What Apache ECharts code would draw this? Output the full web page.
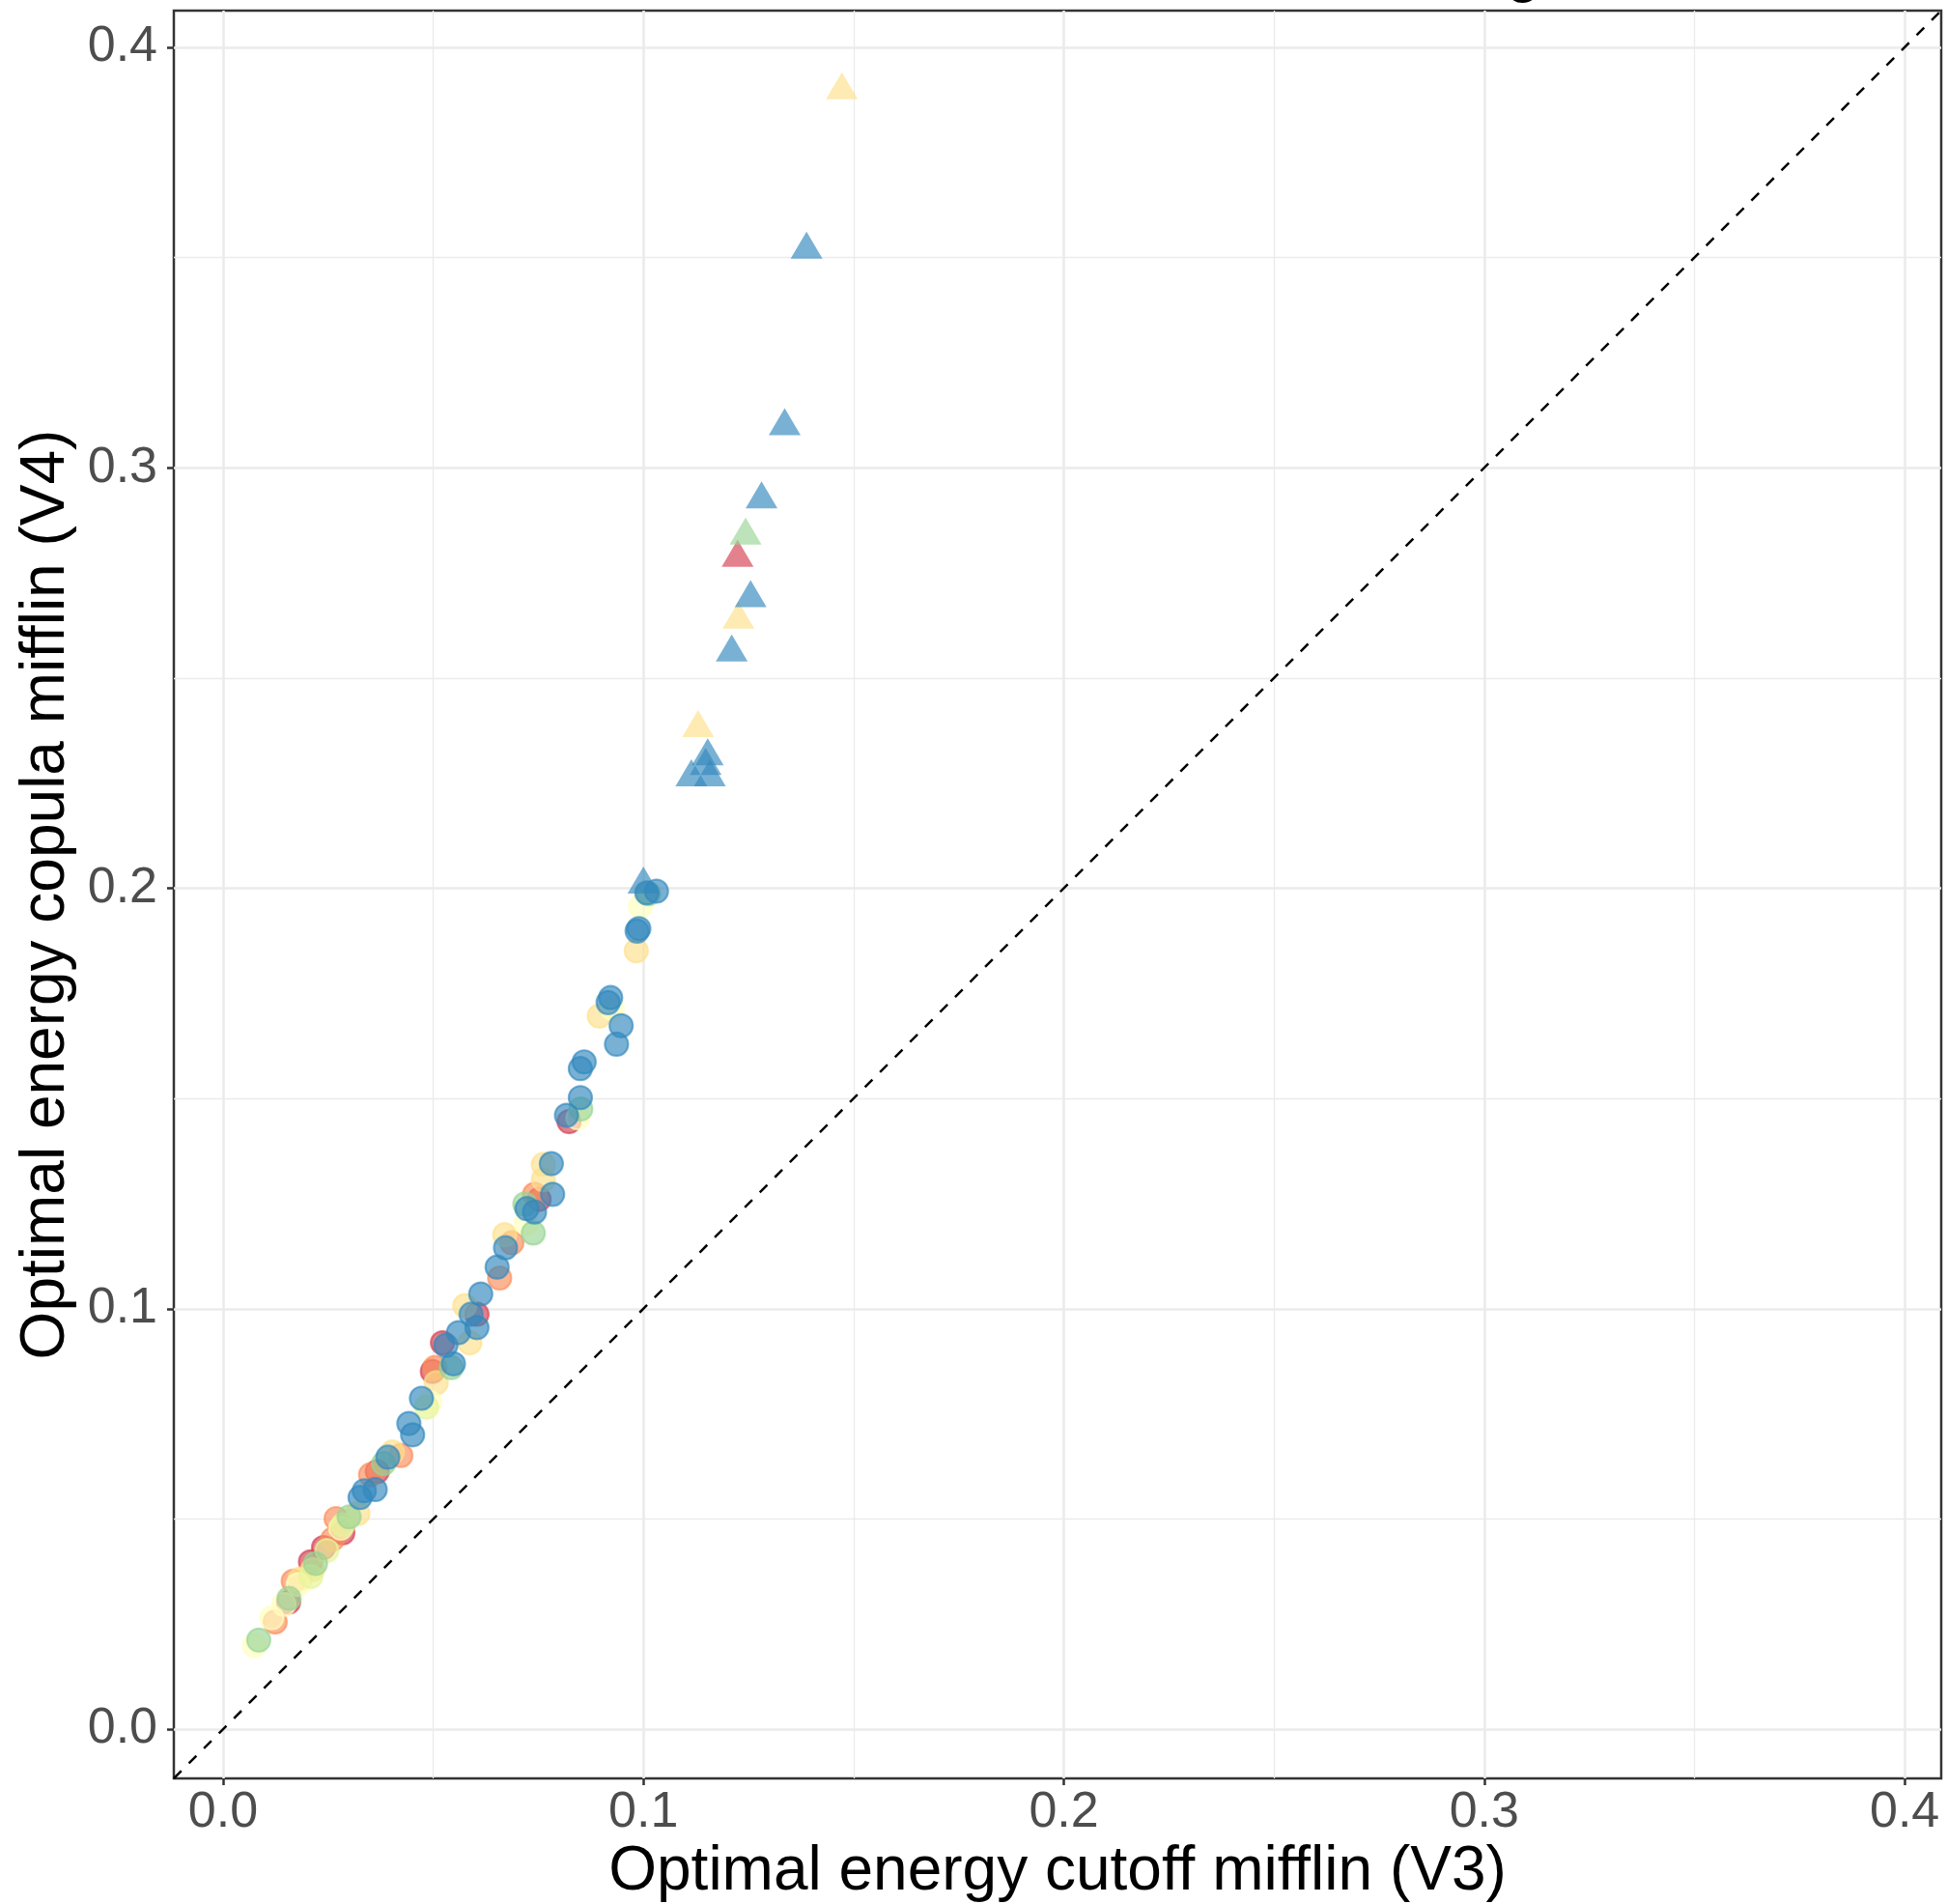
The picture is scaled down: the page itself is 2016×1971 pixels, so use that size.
<!DOCTYPE html>
<html><head><meta charset="utf-8">
<script src="https://cdn.jsdelivr.net/npm/echarts@6/dist/echarts.min.js"></script>
<style>html,body{margin:0;padding:0;background:#fff}#c{width:2016px;height:1971px}</style>
</head><body><div id="c"></div>
<script>
// ---- axes ----
const xTicks = [0, 0.1, 0.2, 0.3, 0.4];
const yTicks = [0, 0.1, 0.2, 0.3, 0.4];
const minorTicks = [0.05, 0.15, 0.25, 0.35];
const axisRange = [-0.0117, 0.4087];
const xTitle = 'Optimal energy cutoff mifflin (V3)';
const yTitle = 'Optimal energy copula mifflin (V4)';

// ---- groups (Spectral palette) ----
const groupColors = ['#D53E4F', '#FC8D59', '#FEE08B', '#FFFFBF', '#E6F598', '#99D594', '#3288BD'];

// circles [V3, V4]
const redCircles = [[0.0823,0.1445],[0.0752,0.1260],[0.0604,0.0987],[0.0522,0.0919],[0.0498,0.0851],[0.0367,0.0613],[0.0285,0.0467],[0.0239,0.0432],[0.0208,0.0398],[0.0156,0.0302]];
const orangeCircles = [[0.0741,0.1272],[0.0687,0.1157],[0.0658,0.1073],[0.0504,0.0860],[0.0423,0.0651],[0.0351,0.0605],[0.0269,0.0501],[0.0261,0.0452],[0.0167,0.0352],[0.0124,0.0255]];
const yellowCircles = [[0.0983,0.1851],[0.0895,0.1696],[0.0762,0.1343],[0.0762,0.1307],[0.0670,0.1176],[0.0575,0.1007],[0.0587,0.0919],[0.0507,0.0824],[0.0403,0.0659],[0.0321,0.0513],[0.0213,0.0379],[0.0183,0.0357]];
const paleYellowCircles = [[0.0993,0.1957],[0.0926,0.1714],[0.0844,0.1454],[0.0721,0.1203],[0.0492,0.0777],[0.0280,0.0478],[0.0179,0.0344],[0.0145,0.0297],[0.0116,0.0265],[0.0075,0.0199]];
const limeCircles = [[0.0247,0.0425],[0.0285,0.0486],[0.0209,0.0363],[0.0484,0.0766]];
const greenCircles = [[0.1012,0.1987],[0.0851,0.1475],[0.0718,0.1249],[0.0738,0.1180],[0.0543,0.0860],[0.0382,0.0632],[0.0300,0.0505],[0.0220,0.0394],[0.0157,0.0311],[0.0085,0.0212]];
const blueCircles = [[0.1031,0.1993],[0.1008,0.1989],[0.0985,0.1898],[0.0989,0.1904],[0.0922,0.1740],[0.0916,0.1728],[0.0947,0.1673],[0.0936,0.1629],[0.0859,0.1587],[0.0850,0.1571],[0.0850,0.1502],[0.0817,0.1460],[0.0781,0.1345],[0.0784,0.1272],[0.0723,0.1238],[0.0741,0.1230],[0.0672,0.1145],[0.0652,0.1099],[0.0613,0.1035],[0.0604,0.0955],[0.0590,0.0987],[0.0560,0.0943],[0.0530,0.0913],[0.0548,0.0869],[0.0472,0.0787],[0.0442,0.0727],[0.0451,0.0700],[0.0392,0.0647],[0.0362,0.0570],[0.0336,0.0567],[0.0326,0.0551]];

// triangles [V3, V4]
const redTriangles = [[0.1224,0.2785]];
const orangeTriangles = [];
const yellowTriangles = [[0.1472,0.3897],[0.1226,0.2638],[0.1130,0.2380]];
const paleYellowTriangles = [];
const limeTriangles = [];
const greenTriangles = [[0.1243,0.2838]];
const blueTriangles = [[0.1388,0.3518],[0.1336,0.3098],[0.1281,0.2924],[0.1255,0.2689],[0.1210,0.2560],[0.1153,0.2313],[0.1148,0.2290],[0.1114,0.2263],[0.1158,0.2263],[0.1000,0.2008]];

const circleSets = [redCircles, orangeCircles, yellowCircles, paleYellowCircles, limeCircles, greenCircles, blueCircles];
const triangleSets = [redTriangles, orangeTriangles, yellowTriangles, paleYellowTriangles, limeTriangles, greenTriangles, blueTriangles];

function rgba(hex, a) {
  const n = parseInt(hex.slice(1), 16);
  return 'rgba(' + (n >> 16 & 255) + ',' + (n >> 8 & 255) + ',' + (n & 255) + ',' + a + ')';
}
const ALPHA = 0.82;
const FONT = '"Liberation Sans", Arial, sans-serif';

const gridLines = [];
minorTicks.forEach(v => {
  gridLines.push({ xAxis: v, lineStyle: { color: '#EBEBEB', width: 1.3, type: 'solid' } });
  gridLines.push({ yAxis: v, lineStyle: { color: '#EBEBEB', width: 1.3, type: 'solid' } });
});
xTicks.forEach(v => gridLines.push({ xAxis: v, lineStyle: { color: '#EBEBEB', width: 2.6, type: 'solid' } }));
yTicks.forEach(v => gridLines.push({ yAxis: v, lineStyle: { color: '#EBEBEB', width: 2.6, type: 'solid' } }));

const series = [{
  type: 'scatter', data: [[0, 0]], symbolSize: 0, silent: true, z: 1,
  markLine: { silent: true, symbol: ['none', 'none'], label: { show: false }, z: 1, animation: false, data: gridLines }
}];
circleSets.forEach((pts, i) => {
  if (!pts.length) return;
  series.push({
    type: 'scatter', data: pts, symbol: 'circle', symbolSize: 24, z: 3,
    itemStyle: { color: rgba(groupColors[i], ALPHA), borderColor: rgba(groupColors[i], ALPHA), borderWidth: 2.2 }
  });
});
triangleSets.forEach((pts, i) => {
  if (!pts.length) return;
  series.push({
    type: 'scatter', data: pts, symbol: 'triangle', symbolSize: [33, 28], symbolOffset: [0, -5], z: 3,
    itemStyle: { color: rgba(groupColors[i], ALPHA) }
  });
});
series.push({
  type: 'scatter', data: [[0, 0]], symbolSize: 0, silent: true, z: 4,
  markLine: {
    silent: true, symbol: ['none', 'none'], label: { show: false }, z: 4, animation: false,
    lineStyle: { color: '#000', width: 2.5, type: [11, 11] },
    data: [[{ coord: [axisRange[0], axisRange[0]] }, { coord: [axisRange[1], axisRange[1]] }]]
  }
});

function axisCfg(ticks, isX) {
  return {
    type: 'value', min: axisRange[0], max: axisRange[1],
    axisLine: { show: false, onZero: false },
    axisTick: { show: true, customValues: ticks, length: 7, lineStyle: { color: '#333333', width: 2.5 } },
    axisLabel: {
      show: true, customValues: ticks, formatter: v => v.toFixed(1),
      fontSize: 52, color: '#4D4D4D', fontFamily: FONT, margin: isX ? 10 : 17
    },
    splitLine: { show: false }, minorSplitLine: { show: false }
  };
}

const chart = echarts.init(document.getElementById('c'), null, { renderer: 'canvas' });
chart.setOption({
  animation: false,
  backgroundColor: '#ffffff',
  grid: { left: 180, right: 6, top: 11, bottom: 130, show: true, borderColor: '#333333', borderWidth: 2.5, backgroundColor: 'transparent' },
  xAxis: axisCfg(xTicks, true),
  yAxis: axisCfg(yTicks, false),
  series: series,
  graphic: [
    { type: 'text', x: 1095, y: 1938, z: 10, style: { text: xTitle, font: '64px ' + FONT, fill: '#000', align: 'center', verticalAlign: 'middle' } },
    { type: 'text', x: 48, y: 926, rotation: Math.PI / 2, z: 10, style: { text: yTitle, font: '64px ' + FONT, fill: '#000', align: 'center', verticalAlign: 'middle' } },
    { type: 'text', x: 1577, y: -28, z: 10, style: { text: 'g', font: '64px ' + FONT, fill: '#000', align: 'center', verticalAlign: 'middle' } }
  ]
});
</script>
</body></html>
